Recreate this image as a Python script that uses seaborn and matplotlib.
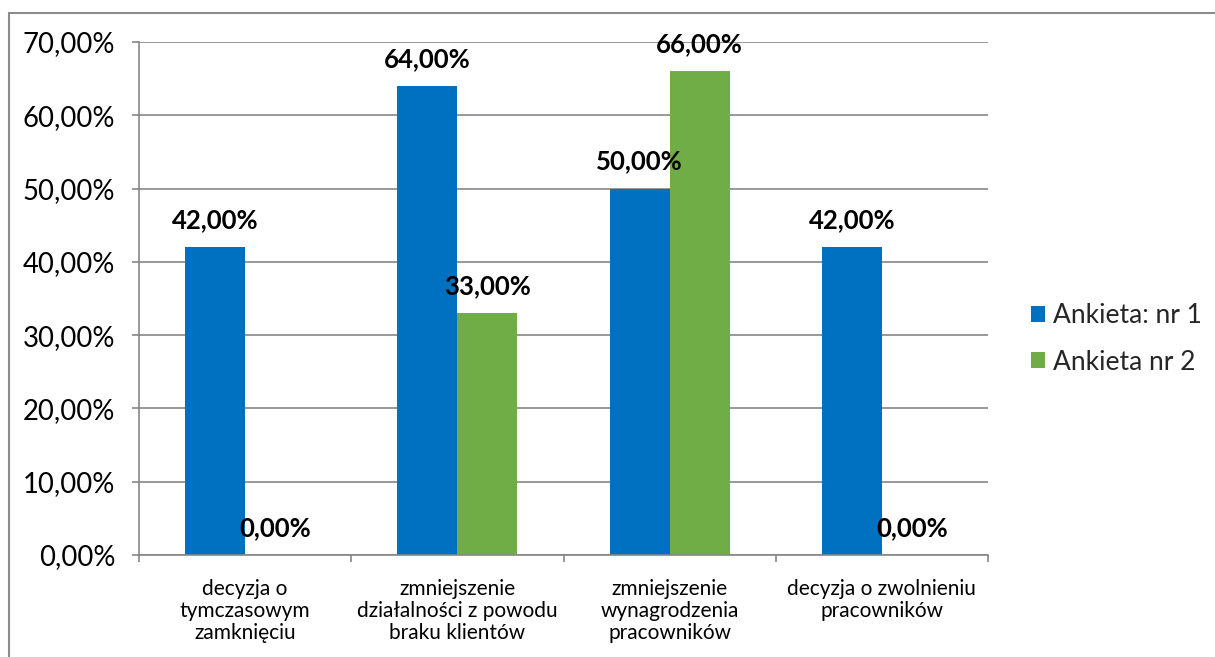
import matplotlib
matplotlib.use("Agg")
import matplotlib.pyplot as plt
import seaborn as sns
import pandas as pd
from matplotlib.lines import Line2D
from matplotlib.patches import Patch
from matplotlib.ticker import FuncFormatter, FixedLocator

categories = [
    "decyzja o\ntymczasowym\nzamknięciu",
    "zmniejszenie\ndziałalności z powodu\nbraku klientów",
    "zmniejszenie\nwynagrodzenia\npracowników",
    "decyzja o zwolnieniu\npracowników",
]
series_names = ["Ankieta: nr 1", "Ankieta nr 2"]
values_1 = [42.0, 64.0, 50.0, 42.0]
values_2 = [0.0, 33.0, 66.0, 0.0]
colors = ["#0070C0", "#70AD47"]
y_ticks = [0, 10, 20, 30, 40, 50, 60, 70]

df = pd.DataFrame({
    "category": categories * 2,
    "series": [series_names[0]] * 4 + [series_names[1]] * 4,
    "value": values_1 + values_2,
})

sns.set_theme(style="white")
plt.rcParams["font.family"] = ["Lato", "DejaVu Sans"]

fig = plt.figure(figsize=(12.15, 6.57), dpi=100)
ax = fig.add_axes([139 / 1215, 1 - 555 / 657, (988 - 139) / 1215, (555 - 42) / 657])

sns.barplot(data=df, x="category", y="value", hue="series", order=categories,
            hue_order=series_names, palette=colors, width=0.566, saturation=1,
            ax=ax, legend=False, linewidth=0, edgecolor="none")

fmt = lambda v: f"{v:.2f}".replace(".", ",") + "%"
for cont in ax.containers:
    ax.bar_label(cont, labels=[fmt(v) for v in cont.datavalues], padding=11,
                 fontsize=18.5, fontweight="bold", color="black")

ax.set_ylim(0, 70)
ax.set_xlim(-0.5, 3.5)
ax.yaxis.set_major_locator(FixedLocator(y_ticks))
ax.yaxis.set_major_formatter(FuncFormatter(lambda v, p: fmt(v)))
ax.grid(axis="y", color="#868686", linewidth=1.2)
ax.set_axisbelow(True)
for s in ["top", "right"]:
    ax.spines[s].set_visible(False)
for s in ["left", "bottom"]:
    ax.spines[s].set_color("#868686")
    ax.spines[s].set_linewidth(1.2)

ax.tick_params(axis="y", which="major", direction="out", length=5, width=1.2,
               color="#868686", labelsize=19.8, pad=12, left=True, labelcolor="black")
ax.set_xticks([-0.5, 0.5, 1.5, 2.5, 3.5], minor=True)
ax.tick_params(axis="x", which="minor", direction="out", length=5, width=1.2,
               color="#868686", bottom=True)
ax.tick_params(axis="x", which="major", length=0, labelsize=15, pad=17,
               labelcolor="black")
for lbl in ax.get_xticklabels():
    lbl.set_linespacing(1.15)
ax.set_xlabel("")
ax.set_ylabel("")

handles = [Patch(facecolor=c, edgecolor="none") for c in colors]
fig.legend(handles, series_names, loc="center left",
           bbox_to_anchor=(1007 / 1215, 1 - 339 / 657), frameon=False,
           fontsize=19, handlelength=0.55, handleheight=0.55, handletextpad=0.3,
           labelspacing=0.8)

fig.add_artist(Line2D([8.5 / 1215, 8.5 / 1215], [0, 1 - 12.5 / 657],
                      color="#8c8c8c", linewidth=1.5, transform=fig.transFigure))
fig.add_artist(Line2D([8.5 / 1215, 1], [1 - 12.5 / 657, 1 - 12.5 / 657],
                      color="#8c8c8c", linewidth=1.5, transform=fig.transFigure))

fig.savefig("out.png", dpi=100, facecolor="white")
